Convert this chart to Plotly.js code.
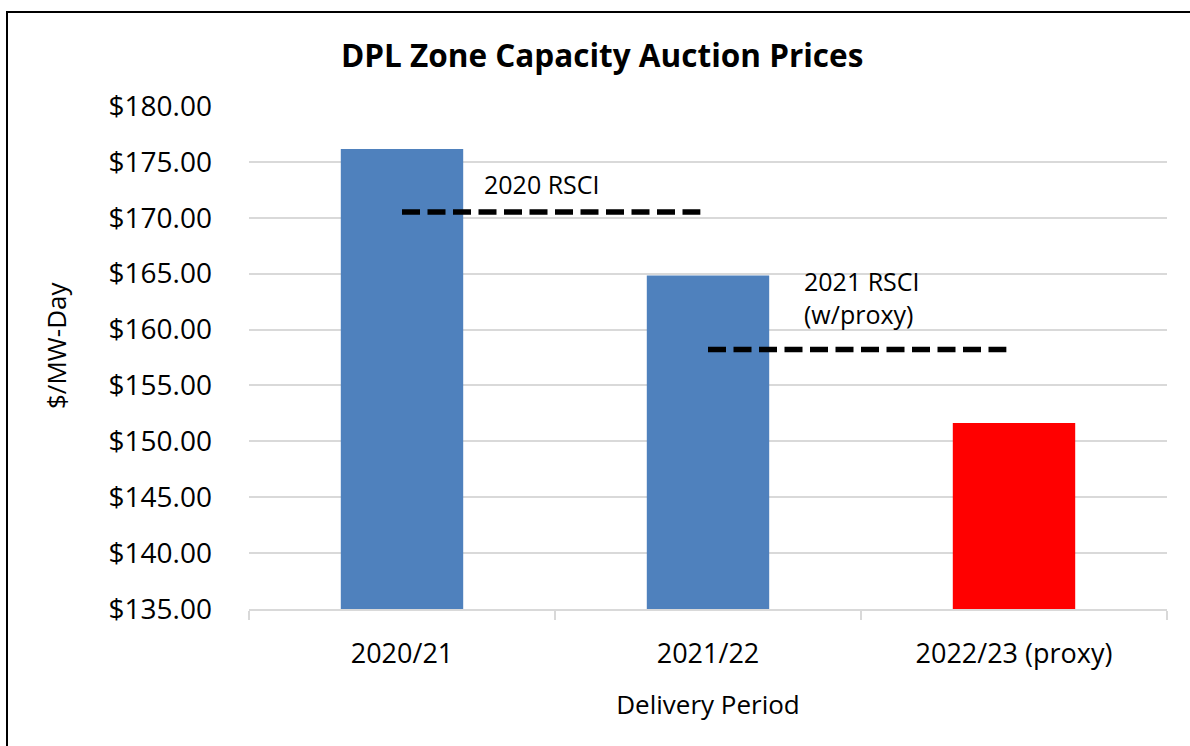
<!DOCTYPE html>
<html>
<head>
<meta charset="utf-8">
<script src="https://cdn.plot.ly/plotly-3.0.1.min.js"></script>
<style>
  html, body { margin: 0; padding: 0; background: #fff; }
  #chart { width: 1190px; height: 746px; }
</style>
</head>
<body>
<div id="chart"></div>
<script>
// ---- data ----
const categories = ['2020/21', '2021/22', '2022/23 (proxy)'];
const prices = [176.15, 164.83, 151.65];
const barColors = ['#4F81BD', '#4F81BD', '#FF0000'];
const rsciLabels = ['2020 RSCI', '2021 RSCI<br>(w/proxy)'];
const rsciValues = [170.52, 158.21];
const rsciStart = [0, 1];
const rsciEnd = [0.975, 1.975];

// ---- layout constants ----
const W = 1190, H = 746;
const M = { l: 249, r: 23, t: 106, b: 137 };
const plotW = W - M.l - M.r, plotH = H - M.t - M.b;
const px2paperX = px => (px - M.l) / plotW;
const px2paperY = py => (H - M.b - py) / plotH;

const traces = [
  {
    type: 'bar',
    x: categories,
    y: prices,
    width: 0.4,
    marker: { color: barColors, line: { width: 0 } },
    hoverinfo: 'x+y'
  }
];
rsciValues.forEach((v, i) => {
  traces.push({
    type: 'scatter',
    mode: 'lines',
    xaxis: 'x2',
    yaxis: 'y',
    x: [rsciStart[i], rsciEnd[i]],
    y: [v, v],
    line: { color: '#000', width: 5.5, dash: '18px,7.5px' },
    hoverinfo: 'y'
  });
});

const annShifts = [{ xs: 80, ys: 28 }, { xs: 94, ys: 52 }];

const annotations = rsciLabels.map((t, i) => ({
  xref: 'x2', yref: 'y',
  x: rsciStart[i], y: rsciValues[i],
  xanchor: 'left', yanchor: 'middle',
  xshift: annShifts[i].xs, yshift: annShifts[i].ys,
  text: t, align: 'left', showarrow: false,
  font: { size: 25, color: '#000' }
}));
// y-axis title (placed as rotated annotation to match the original offset)
annotations.push({
  xref: 'paper', yref: 'paper',
  x: px2paperX(56), y: px2paperY(346),
  xanchor: 'center', yanchor: 'middle',
  text: '$/MW-Day', textangle: -90, showarrow: false,
  font: { size: 26, color: '#000' }
});

const layout = {
  width: W, height: H,
  margin: M,
  showlegend: false,
  paper_bgcolor: '#fff',
  plot_bgcolor: '#fff',
  font: { family: 'Open Sans, sans-serif', color: '#000' },
  title: {
    text: '<b>DPL Zone Capacity Auction Prices</b>',
    font: { size: 31.5, color: '#000' },
    x: 0.506, xanchor: 'center',
    y: 1 - 56 / H, yanchor: 'middle'
  },
  xaxis: {
    type: 'category',
    range: [-0.5, 2.5],
    tickson: 'boundaries',
    ticks: 'outside',
    ticklen: 9,
    tickwidth: 2,
    tickcolor: '#d9d9d9',
    showline: true,
    linecolor: '#d9d9d9',
    linewidth: 2,
    showgrid: false,
    tickfont: { size: 27, color: '#000' },
    ticklabelstandoff: 20,
    title: { text: 'Delivery Period', font: { size: 26, color: '#000' }, standoff: 25 }
  },
  xaxis2: {
    overlaying: 'x',
    range: [-0.5, 2.5],
    visible: false
  },
  yaxis: {
    range: [135, 180],
    tick0: 135,
    dtick: 5,
    tickprefix: '$',
    tickformat: '.2f',
    showgrid: true,
    gridcolor: '#d9d9d9',
    gridwidth: 2,
    zeroline: false,
    showline: false,
    ticks: '',
    ticklabelstandoff: 36,
    tickfont: { size: 28, color: '#000' }
  },
  annotations: annotations,
  shapes: [
    { type: 'line', xref: 'paper', yref: 'paper', layer: 'above',
      x0: px2paperX(7), x1: px2paperX(7), y0: px2paperY(11), y1: px2paperY(H + 20),
      line: { color: '#000', width: 2 } },
    { type: 'line', xref: 'paper', yref: 'paper', layer: 'above',
      x0: px2paperX(6), x1: px2paperX(W + 20), y0: px2paperY(12), y1: px2paperY(12),
      line: { color: '#000', width: 2 } }
  ]
};

Plotly.newPlot('chart', traces, layout, { displayModeBar: false, staticPlot: true });
</script>
</body>
</html>
